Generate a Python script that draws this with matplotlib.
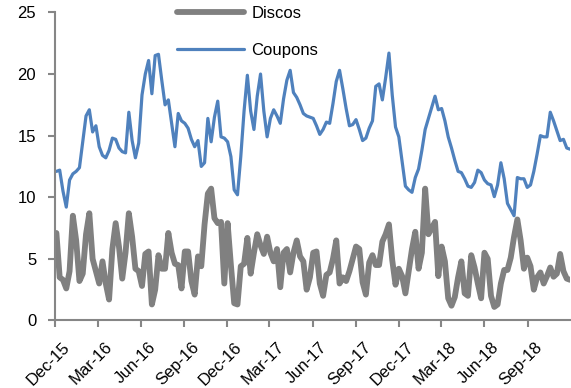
#Discos vs Coupons weekly chart
import pandas as pd                      #pandas for the weekly dates
import matplotlib
matplotlib.use("Agg")
import matplotlib.pyplot as plt
import matplotlib.dates as mdates
from matplotlib.transforms import ScaledTranslation

# weekly values (Dec-15 to end of Nov-18)
coupons = [12.1, 12.2, 10.5, 9.2, 11.4, 11.9, 12.1, 12.4, 14.5, 16.6,
           17.1, 15.3, 15.8, 14.1, 13.4, 13.2, 13.8, 14.8, 14.7, 14.0,
           13.7, 13.6, 16.9, 14.6, 13.2, 14.4, 18.3, 20.0, 21.1, 18.4,
           21.5, 21.6, 19.5, 17.5, 17.9, 16.0, 14.1, 16.8, 16.2, 16.0,
           15.6, 14.7, 14.1, 14.6, 12.5, 12.8, 16.4, 14.5, 16.5, 17.8,
           14.9, 14.8, 14.5, 13.3, 10.6, 10.2, 13.3, 17.0, 19.9, 17.0,
           15.5, 18.2, 20.0, 17.0, 14.9, 16.4, 17.1, 16.6, 16.0, 18.0,
           19.5, 20.3, 18.5, 18.1, 17.5, 16.8, 16.6, 16.5, 16.4, 15.8,
           15.1, 15.5, 16.1, 16.0, 17.6, 19.4, 20.3, 18.8, 17.2, 15.8,
           15.9, 16.3, 15.5, 14.6, 14.8, 15.6, 16.2, 19.0, 19.2, 17.9,
           19.7, 21.7, 18.3, 15.7, 14.9, 12.9, 10.9, 10.6, 10.4, 11.6,
           12.3, 13.8, 15.5, 16.4, 17.3, 18.2, 17.1, 17.2, 16.2, 14.9,
           14.0, 13.0, 12.1, 12.0, 11.5, 10.9, 10.8, 11.2, 12.2, 12.0,
           11.4, 11.1, 11.0, 10.05, 11.0, 12.8, 11.5, 9.5, 9.0, 8.5,
           11.6, 11.5, 11.5, 10.8, 11.0, 12.1, 13.5, 15.0, 14.9, 14.9,
           16.9, 16.2, 15.4, 14.6, 14.7, 14.0, 13.9]

discos = [7.1, 3.5, 3.3, 2.6, 4.0, 8.5, 6.5, 3.2, 3.8, 7.0,
          8.7, 5.0, 4.0, 3.0, 4.8, 3.0, 1.7, 5.8, 7.9, 6.0,
          3.4, 5.5, 8.7, 6.8, 4.2, 4.0, 2.8, 5.4, 5.6, 1.3,
          2.5, 5.3, 4.2, 4.2, 7.1, 5.5, 4.6, 4.5, 2.6, 5.6,
          5.6, 3.2, 2.1, 5.2, 4.4, 7.8, 10.3, 10.7, 8.3, 7.9,
          8.0, 3.0, 7.9, 4.5, 1.4, 1.3, 4.4, 4.6, 6.7, 3.8,
          5.5, 7.0, 6.1, 5.4, 6.8, 5.5, 4.8, 5.8, 2.7, 5.5,
          5.8, 3.9, 5.5, 6.5, 5.2, 4.8, 2.5, 3.5, 5.5, 5.6,
          3.0, 2.0, 3.7, 3.9, 5.0, 6.5, 3.0, 3.5, 3.2, 4.0,
          5.0, 6.0, 5.8, 3.1, 2.1, 4.7, 5.3, 4.5, 4.5, 6.4,
          7.0, 7.8, 4.9, 2.9, 4.2, 3.6, 2.2, 4.0, 5.8, 7.2,
          4.2, 5.5, 10.7, 7.0, 7.5, 8.0, 3.6, 6.0, 4.8, 1.8,
          1.2, 1.9, 3.5, 4.8, 2.2, 2.0, 5.3, 4.3, 3.0, 1.8,
          5.5, 5.0, 2.0, 1.1, 1.3, 3.0, 4.1, 4.1, 5.1, 6.8,
          8.2, 6.5, 4.2, 5.1, 4.4, 2.5, 3.5, 3.9, 3.0, 3.6,
          4.3, 3.55, 3.8, 5.4, 4.0, 3.4, 3.3]

dates = pd.date_range("2015-12-04", periods=len(coupons), freq="7D")
tick_dates = pd.date_range("2015-12-01", "2018-09-01", freq="3MS")

plt.rcParams["font.family"] = ["Liberation Sans", "DejaVu Sans"]
fig = plt.figure(figsize=(5.71, 3.88), dpi=100)
ax = fig.add_axes([0.0963, 0.174, 0.902, 0.794])

# gray thick discos line, blue coupons line
ax.plot(dates, discos, color="#808080", lw=4.2, label="Discos", solid_capstyle="round")
ax.plot(dates, coupons, color="#4F81BD", lw=2.3, label="Coupons", solid_capstyle="round")

ax.set_ylim(0, 25)
ax.set_yticks([0, 5, 10, 15, 20, 25])
ax.set_xlim(pd.Timestamp("2015-12-01"), pd.Timestamp("2018-11-30"))
ax.set_xticks(tick_dates)
ax.xaxis.set_major_formatter(mdates.DateFormatter("%b-%y"))

for s in ["top", "right"]:
    ax.spines[s].set_visible(False)
for s in ["left", "bottom"]:
    ax.spines[s].set_color("#868686")
    ax.spines[s].set_linewidth(1.5)
ax.tick_params(axis="both", colors="#868686", labelcolor="black", length=5, width=1.5,
               labelsize=12)
ax.tick_params(axis="y", pad=8.5)
plt.setp(ax.get_xticklabels(), rotation=45, ha="right", va="top", rotation_mode="anchor")
# push the slanted labels a bit right and down like the original
for lab in ax.get_xticklabels():
    lab.set_transform(lab.get_transform() + ScaledTranslation(0.07, -0.07, fig.dpi_scale_trans))

leg = ax.legend(loc="center left", bbox_to_anchor=(0.237, 0.936), frameon=False,
                fontsize=12, handlelength=4.0, labelspacing=1.3,
                borderpad=0, borderaxespad=0, handletextpad=0.45)

fig.savefig("out.png", dpi=100)
